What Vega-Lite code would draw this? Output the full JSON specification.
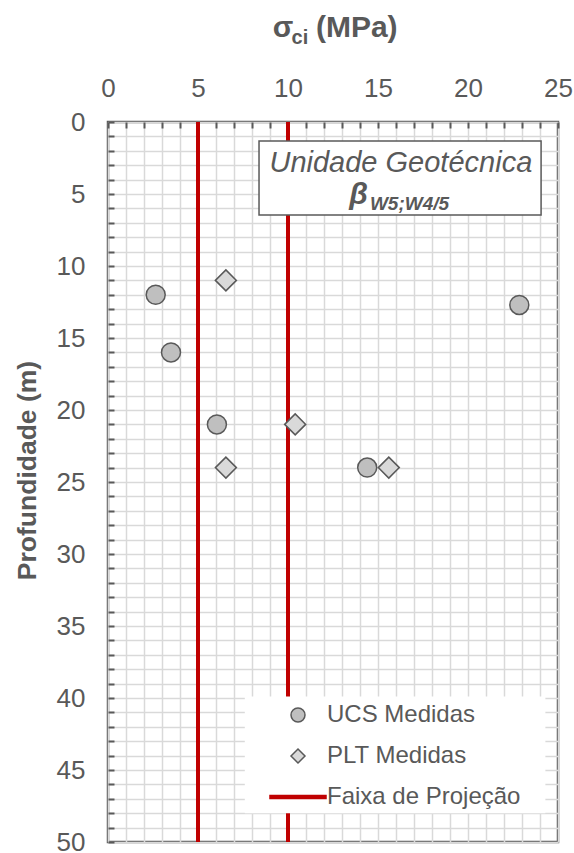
{
  "$schema": "https://vega.github.io/schema/vega-lite/v6.json",
  "width": 450,
  "height": 720,
  "autosize": {"type": "none"},
  "padding": {"left": 108, "top": 122, "right": 16, "bottom": 11},
  "background": "white",
  "config": {
    "font": "Liberation Sans",
    "view": {"stroke": "#595959", "strokeWidth": 2.5},
    "axis": {
      "grid": true,
      "gridColor": "#D9D9D9",
      "gridWidth": 1.5,
      "domain": false,
      "ticks": true,
      "tickSize": -6,
      "tickColor": "#595959",
      "tickWidth": 2,
      "labelFontSize": 26,
      "labelColor": "#595959",
      "labelFont": "Liberation Sans",
      "labelFlush": false,
      "labelOverlap": false
    }
  },
  "datasets": {
    "pts": [
      {"serie": "UCS Medidas", "sigma": 2.65, "prof": 12},
      {"serie": "UCS Medidas", "sigma": 3.5, "prof": 16},
      {"serie": "UCS Medidas", "sigma": 6.05, "prof": 21},
      {"serie": "UCS Medidas", "sigma": 14.4, "prof": 24},
      {"serie": "UCS Medidas", "sigma": 22.85, "prof": 12.7},
      {"serie": "PLT Medidas", "sigma": 6.55, "prof": 11},
      {"serie": "PLT Medidas", "sigma": 10.4, "prof": 21},
      {"serie": "PLT Medidas", "sigma": 6.55, "prof": 24},
      {"serie": "PLT Medidas", "sigma": 15.6, "prof": 24}
    ],
    "faixa": [
      {"serie": "Faixa de Projeção", "sigma": 5},
      {"serie": "Faixa de Projeção", "sigma": 10}
    ]
  },
  "layer": [
    {
      "data": {"name": "faixa"},
      "mark": {"type": "rule", "strokeWidth": 4},
      "encoding": {
        "x": {"field": "sigma", "type": "quantitative", "scale": {"domain": [0, 25], "nice": false}, "axis": {"orient": "top", "title": null, "values": [0,1,2,3,4,5,6,7,8,9,10,11,12,13,14,15,16,17,18,19,20,21,22,23,24,25], "labelExpr": "datum.value % 5 === 0 ? datum.label : ''", "labelPadding": 27}},
        "stroke": {
          "field": "serie",
          "type": "nominal",
          "scale": {"domain": ["UCS Medidas", "PLT Medidas", "Faixa de Projeção"], "range": ["#595959", "#595959", "#C00000"]},
          "legend": {"title": null, "orient": "none", "legendX": 178, "legendY": 581, "padding": 0, "labelFontSize": 24, "labelColor": "#595959", "labelFont": "Liberation Sans", "labelLimit": 400, "symbolSize": 196, "symbolStrokeWidth": 1.5, "rowPadding": 17, "labelOffset": 17, "symbolOpacity": 1}
        }
      }
    },
    {
      "data": {"name": "pts"},
      "transform": [{"filter": "datum.serie === 'UCS Medidas'"}],
      "mark": {"type": "point", "filled": true, "opacity": 1, "strokeWidth": 1.5, "size": 361},
      "encoding": {
        "x": {"field": "sigma", "type": "quantitative", "axis": {"orient": "top", "title": null, "values": [0,1,2,3,4,5,6,7,8,9,10,11,12,13,14,15,16,17,18,19,20,21,22,23,24,25], "labelExpr": "datum.value % 5 === 0 ? datum.label : ''", "labelPadding": 27}},
        "y": {"field": "prof", "type": "quantitative", "scale": {"domain": [0, 50], "nice": false, "reverse": true}, "axis": {"orient": "left", "title": "Profundidade (m)", "values": [0,1,2,3,4,5,6,7,8,9,10,11,12,13,14,15,16,17,18,19,20,21,22,23,24,25,26,27,28,29,30,31,32,33,34,35,36,37,38,39,40,41,42,43,44,45,46,47,48,49,50], "labelExpr": "datum.value % 5 === 0 ? datum.label : ''", "labelPadding": 29, "titleFontSize": 26.5, "titleFontWeight": "bold", "titleColor": "#595959", "titleFont": "Liberation Sans", "titleX": -81, "titleY": 348, "titleAngle": -90, "titleAlign": "center", "titleBaseline": "middle"}},
        "shape": {
          "field": "serie",
          "type": "nominal",
          "scale": {"domain": ["UCS Medidas", "PLT Medidas", "Faixa de Projeção"], "range": ["circle", "diamond", "M-4,-0.22H4V0.22H-4Z"]},
          "legend": {"title": null, "orient": "none", "legendX": 178, "legendY": 581, "padding": 0, "labelFontSize": 24, "labelColor": "#595959", "labelFont": "Liberation Sans", "labelLimit": 400, "symbolSize": 196, "symbolStrokeWidth": 1.5, "rowPadding": 17, "labelOffset": 17, "symbolOpacity": 1}
        },
        "fill": {
          "field": "serie",
          "type": "nominal",
          "scale": {"domain": ["UCS Medidas", "PLT Medidas", "Faixa de Projeção"], "range": ["#BFBFBF", "#D9D9D9", "#C00000"]},
          "legend": {"title": null, "orient": "none", "legendX": 178, "legendY": 581, "padding": 0, "labelFontSize": 24, "labelColor": "#595959", "labelFont": "Liberation Sans", "labelLimit": 400, "symbolSize": 196, "symbolStrokeWidth": 1.5, "rowPadding": 17, "labelOffset": 17, "symbolOpacity": 1}
        },
        "stroke": {"field": "serie", "type": "nominal"}
      }
    },
    {
      "data": {"name": "pts"},
      "transform": [{"filter": "datum.serie === 'PLT Medidas'"}],
      "mark": {"type": "point", "filled": true, "opacity": 1, "strokeWidth": 1.5, "size": 441},
      "encoding": {
        "x": {"field": "sigma", "type": "quantitative", "axis": {"orient": "top", "title": null, "values": [0,1,2,3,4,5,6,7,8,9,10,11,12,13,14,15,16,17,18,19,20,21,22,23,24,25], "labelExpr": "datum.value % 5 === 0 ? datum.label : ''", "labelPadding": 27}},
        "y": {"field": "prof", "type": "quantitative", "axis": {"orient": "left", "title": "Profundidade (m)", "values": [0,1,2,3,4,5,6,7,8,9,10,11,12,13,14,15,16,17,18,19,20,21,22,23,24,25,26,27,28,29,30,31,32,33,34,35,36,37,38,39,40,41,42,43,44,45,46,47,48,49,50], "labelExpr": "datum.value % 5 === 0 ? datum.label : ''", "labelPadding": 29, "titleFontSize": 26.5, "titleFontWeight": "bold", "titleColor": "#595959", "titleFont": "Liberation Sans", "titleX": -81, "titleY": 348, "titleAngle": -90, "titleAlign": "center", "titleBaseline": "middle"}},
        "shape": {"field": "serie", "type": "nominal"},
        "fill": {"field": "serie", "type": "nominal"},
        "stroke": {"field": "serie", "type": "nominal"}
      }
    },
    {
      "data": {"values": [{}]},
      "mark": {"type": "rect", "fill": "white", "stroke": "#595959", "strokeWidth": 1.5},
      "encoding": {
        "x": {"datum": 8.39, "type": "quantitative", "axis": {"orient": "top", "title": null, "values": [0,1,2,3,4,5,6,7,8,9,10,11,12,13,14,15,16,17,18,19,20,21,22,23,24,25], "labelExpr": "datum.value % 5 === 0 ? datum.label : ''", "labelPadding": 27}},
        "x2": {"datum": 24.06},
        "y": {"datum": 1.32, "type": "quantitative", "axis": {"orient": "left", "title": "Profundidade (m)", "values": [0,1,2,3,4,5,6,7,8,9,10,11,12,13,14,15,16,17,18,19,20,21,22,23,24,25,26,27,28,29,30,31,32,33,34,35,36,37,38,39,40,41,42,43,44,45,46,47,48,49,50], "labelExpr": "datum.value % 5 === 0 ? datum.label : ''", "labelPadding": 29, "titleFontSize": 26.5, "titleFontWeight": "bold", "titleColor": "#595959", "titleFont": "Liberation Sans", "titleX": -81, "titleY": 348, "titleAngle": -90, "titleAlign": "center", "titleBaseline": "middle"}},
        "y2": {"datum": 6.46}
      }
    },
    {
      "data": {"values": [{}]},
      "mark": {"type": "rect", "fill": "white", "strokeWidth": 0},
      "encoding": {
        "x": {"datum": 7.6, "type": "quantitative", "axis": {"orient": "top", "title": null, "values": [0,1,2,3,4,5,6,7,8,9,10,11,12,13,14,15,16,17,18,19,20,21,22,23,24,25], "labelExpr": "datum.value % 5 === 0 ? datum.label : ''", "labelPadding": 27}},
        "x2": {"datum": 24.3},
        "y": {"datum": 39.9, "type": "quantitative", "axis": {"orient": "left", "title": "Profundidade (m)", "values": [0,1,2,3,4,5,6,7,8,9,10,11,12,13,14,15,16,17,18,19,20,21,22,23,24,25,26,27,28,29,30,31,32,33,34,35,36,37,38,39,40,41,42,43,44,45,46,47,48,49,50], "labelExpr": "datum.value % 5 === 0 ? datum.label : ''", "labelPadding": 29, "titleFontSize": 26.5, "titleFontWeight": "bold", "titleColor": "#595959", "titleFont": "Liberation Sans", "titleX": -81, "titleY": 348, "titleAngle": -90, "titleAlign": "center", "titleBaseline": "middle"}},
        "y2": {"datum": 48.0}
      }
    },
    {
      "data": {"values": [{}]},
      "mark": {"type": "text", "text": "Unidade Geotécnica", "align": "center", "baseline": "alphabetic", "fontSize": 29, "fontStyle": "italic", "font": "Liberation Sans", "color": "#595959"},
      "encoding": {
        "x": {"datum": 16.27, "type": "quantitative", "axis": {"orient": "top", "title": null, "values": [0,1,2,3,4,5,6,7,8,9,10,11,12,13,14,15,16,17,18,19,20,21,22,23,24,25], "labelExpr": "datum.value % 5 === 0 ? datum.label : ''", "labelPadding": 27}},
        "y": {"datum": 3.44, "type": "quantitative", "axis": {"orient": "left", "title": "Profundidade (m)", "values": [0,1,2,3,4,5,6,7,8,9,10,11,12,13,14,15,16,17,18,19,20,21,22,23,24,25,26,27,28,29,30,31,32,33,34,35,36,37,38,39,40,41,42,43,44,45,46,47,48,49,50], "labelExpr": "datum.value % 5 === 0 ? datum.label : ''", "labelPadding": 29, "titleFontSize": 26.5, "titleFontWeight": "bold", "titleColor": "#595959", "titleFont": "Liberation Sans", "titleX": -81, "titleY": 348, "titleAngle": -90, "titleAlign": "center", "titleBaseline": "middle"}}
      }
    },
    {
      "data": {"values": [{}]},
      "mark": {"type": "text", "text": "β", "align": "left", "baseline": "alphabetic", "fontSize": 30, "fontStyle": "italic", "fontWeight": "bold", "font": "Liberation Sans", "color": "#595959"},
      "encoding": {
        "x": {"datum": 13.4, "type": "quantitative", "axis": {"orient": "top", "title": null, "values": [0,1,2,3,4,5,6,7,8,9,10,11,12,13,14,15,16,17,18,19,20,21,22,23,24,25], "labelExpr": "datum.value % 5 === 0 ? datum.label : ''", "labelPadding": 27}},
        "y": {"datum": 5.7, "type": "quantitative", "axis": {"orient": "left", "title": "Profundidade (m)", "values": [0,1,2,3,4,5,6,7,8,9,10,11,12,13,14,15,16,17,18,19,20,21,22,23,24,25,26,27,28,29,30,31,32,33,34,35,36,37,38,39,40,41,42,43,44,45,46,47,48,49,50], "labelExpr": "datum.value % 5 === 0 ? datum.label : ''", "labelPadding": 29, "titleFontSize": 26.5, "titleFontWeight": "bold", "titleColor": "#595959", "titleFont": "Liberation Sans", "titleX": -81, "titleY": 348, "titleAngle": -90, "titleAlign": "center", "titleBaseline": "middle"}}
      }
    },
    {
      "data": {"values": [{}]},
      "mark": {"type": "text", "text": "W5;W4/5", "align": "left", "baseline": "alphabetic", "fontSize": 19, "fontStyle": "italic", "fontWeight": "bold", "font": "Liberation Sans", "color": "#595959"},
      "encoding": {
        "x": {"datum": 14.55, "type": "quantitative", "axis": {"orient": "top", "title": null, "values": [0,1,2,3,4,5,6,7,8,9,10,11,12,13,14,15,16,17,18,19,20,21,22,23,24,25], "labelExpr": "datum.value % 5 === 0 ? datum.label : ''", "labelPadding": 27}},
        "y": {"datum": 6.1, "type": "quantitative", "axis": {"orient": "left", "title": "Profundidade (m)", "values": [0,1,2,3,4,5,6,7,8,9,10,11,12,13,14,15,16,17,18,19,20,21,22,23,24,25,26,27,28,29,30,31,32,33,34,35,36,37,38,39,40,41,42,43,44,45,46,47,48,49,50], "labelExpr": "datum.value % 5 === 0 ? datum.label : ''", "labelPadding": 29, "titleFontSize": 26.5, "titleFontWeight": "bold", "titleColor": "#595959", "titleFont": "Liberation Sans", "titleX": -81, "titleY": 348, "titleAngle": -90, "titleAlign": "center", "titleBaseline": "middle"}}
      }
    },
    {
      "data": {"values": [{}]},
      "mark": {"type": "text", "text": "σ", "align": "left", "baseline": "alphabetic", "fontSize": 30, "fontWeight": "bold", "font": "Liberation Sans", "color": "#595959"},
      "encoding": {
        "x": {"datum": 9.15, "type": "quantitative", "axis": {"orient": "top", "title": null, "values": [0,1,2,3,4,5,6,7,8,9,10,11,12,13,14,15,16,17,18,19,20,21,22,23,24,25], "labelExpr": "datum.value % 5 === 0 ? datum.label : ''", "labelPadding": 27}},
        "y": {"datum": -5.92, "type": "quantitative", "axis": {"orient": "left", "title": "Profundidade (m)", "values": [0,1,2,3,4,5,6,7,8,9,10,11,12,13,14,15,16,17,18,19,20,21,22,23,24,25,26,27,28,29,30,31,32,33,34,35,36,37,38,39,40,41,42,43,44,45,46,47,48,49,50], "labelExpr": "datum.value % 5 === 0 ? datum.label : ''", "labelPadding": 29, "titleFontSize": 26.5, "titleFontWeight": "bold", "titleColor": "#595959", "titleFont": "Liberation Sans", "titleX": -81, "titleY": 348, "titleAngle": -90, "titleAlign": "center", "titleBaseline": "middle"}}
      }
    },
    {
      "data": {"values": [{}]},
      "mark": {"type": "text", "text": "ci", "align": "left", "baseline": "alphabetic", "fontSize": 20, "fontWeight": "bold", "font": "Liberation Sans", "color": "#595959"},
      "encoding": {
        "x": {"datum": 10.2, "type": "quantitative", "axis": {"orient": "top", "title": null, "values": [0,1,2,3,4,5,6,7,8,9,10,11,12,13,14,15,16,17,18,19,20,21,22,23,24,25], "labelExpr": "datum.value % 5 === 0 ? datum.label : ''", "labelPadding": 27}},
        "y": {"datum": -5.42, "type": "quantitative", "axis": {"orient": "left", "title": "Profundidade (m)", "values": [0,1,2,3,4,5,6,7,8,9,10,11,12,13,14,15,16,17,18,19,20,21,22,23,24,25,26,27,28,29,30,31,32,33,34,35,36,37,38,39,40,41,42,43,44,45,46,47,48,49,50], "labelExpr": "datum.value % 5 === 0 ? datum.label : ''", "labelPadding": 29, "titleFontSize": 26.5, "titleFontWeight": "bold", "titleColor": "#595959", "titleFont": "Liberation Sans", "titleX": -81, "titleY": 348, "titleAngle": -90, "titleAlign": "center", "titleBaseline": "middle"}}
      }
    },
    {
      "data": {"values": [{}]},
      "mark": {"type": "text", "text": "(MPa)", "align": "left", "baseline": "alphabetic", "fontSize": 30, "fontWeight": "bold", "font": "Liberation Sans", "color": "#595959"},
      "encoding": {
        "x": {"datum": 11.55, "type": "quantitative", "axis": {"orient": "top", "title": null, "values": [0,1,2,3,4,5,6,7,8,9,10,11,12,13,14,15,16,17,18,19,20,21,22,23,24,25], "labelExpr": "datum.value % 5 === 0 ? datum.label : ''", "labelPadding": 27}},
        "y": {"datum": -5.92, "type": "quantitative", "axis": {"orient": "left", "title": "Profundidade (m)", "values": [0,1,2,3,4,5,6,7,8,9,10,11,12,13,14,15,16,17,18,19,20,21,22,23,24,25,26,27,28,29,30,31,32,33,34,35,36,37,38,39,40,41,42,43,44,45,46,47,48,49,50], "labelExpr": "datum.value % 5 === 0 ? datum.label : ''", "labelPadding": 29, "titleFontSize": 26.5, "titleFontWeight": "bold", "titleColor": "#595959", "titleFont": "Liberation Sans", "titleX": -81, "titleY": 348, "titleAngle": -90, "titleAlign": "center", "titleBaseline": "middle"}}
      }
    }
  ]
}
